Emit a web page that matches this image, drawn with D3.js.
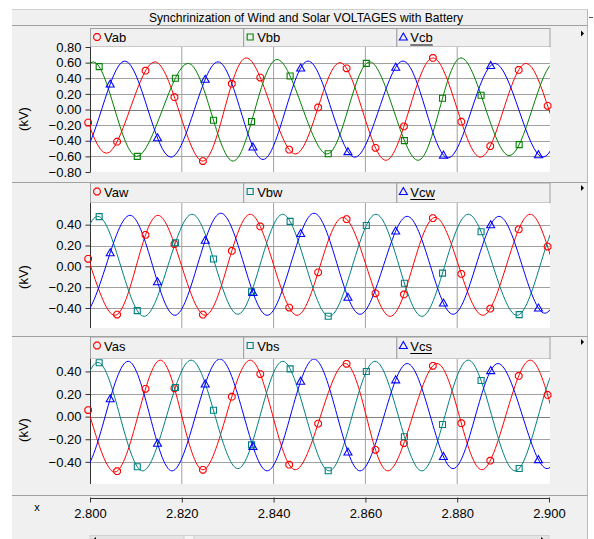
<!DOCTYPE html>
<html><head><meta charset="utf-8">
<script src="https://cdn.jsdelivr.net/npm/d3@7"></script>
<style>
body{margin:0;background:#fff;}
svg{display:block;font-family:"Liberation Sans",Arial,sans-serif;}
</style>
</head><body>
<svg id="chart" width="594" height="539"></svg>
<script>
// ---------------- DATA ----------------
const chartTitle = "Synchrinization of Wind and Solar VOLTAGES with Battery";
const xTicks = [2.80, 2.82, 2.84, 2.86, 2.88, 2.90];
const xDomain = [2.80, 2.90];
const yUnit = "(kV)";

// Panel 1 : battery voltages (times of successive peaks / troughs in s, values in kV)
const panel1Names = ["Vab", "Vbb", "Vcb"];
const panel1YTicks = [-0.8, -0.6, -0.4, -0.2, 0, 0.2, 0.4, 0.6, 0.8];
const panel1YDomain = [-0.8, 0.8];
const vabT = [2.7838, 2.7935, 2.8036, 2.8142, 2.8246, 2.8340, 2.8447, 2.8545, 2.8645, 2.8747, 2.8850, 2.8950, 2.9050, 2.9151];
const vabV = [-0.58, 0.60, -0.56, 0.61, -0.66, 0.66, -0.57, 0.60, -0.65, 0.66, -0.61, 0.59, -0.60, 0.60];
const vbbT = [2.7807, 2.7908, 2.8007, 2.8102, 2.8214, 2.8312, 2.8407, 2.8516, 2.8610, 2.8715, 2.8808, 2.8913, 2.9013, 2.9114];
const vbbV = [0.60, -0.60, 0.61, -0.60, 0.59, -0.66, 0.64, -0.57, 0.61, -0.65, 0.66, -0.59, 0.60, -0.60];
const vcbT = [2.7775, 2.7876, 2.7976, 2.8076, 2.8176, 2.8279, 2.8377, 2.8475, 2.8577, 2.8682, 2.8780, 2.8882, 2.8987, 2.9087, 2.9188];
const vcbV = [-0.60, 0.60, -0.60, 0.62, -0.61, 0.61, -0.64, 0.62, -0.61, 0.62, -0.62, 0.59, -0.61, 0.60, -0.60];

// Panel 2 : wind voltages
const panel2Names = ["Vaw", "Vbw", "Vcw"];
const panel2YTicks = [-0.4, -0.2, 0, 0.2, 0.4];
const panel2YDomain = [-0.592, 0.608];
const vawT = [2.7851, 2.7948, 2.8054, 2.8148, 2.8251, 2.8349, 2.8451, 2.8551, 2.8654, 2.8752, 2.8856, 2.8959, 2.9059, 2.9160];
const vawV = [-0.47, 0.48, -0.47, 0.49, -0.47, 0.50, -0.47, 0.47, -0.48, 0.47, -0.47, 0.50, -0.47, 0.48];
const vbwT = [2.7816, 2.7917, 2.8017, 2.8118, 2.8222, 2.8322, 2.8420, 2.8521, 2.8623, 2.8723, 2.8824, 2.8930, 2.9030, 2.9131];
const vbwV = [0.48, -0.48, 0.48, -0.48, 0.50, -0.46, 0.50, -0.48, 0.50, -0.48, 0.50, -0.47, 0.48, -0.47];
const vcwT = [2.7781, 2.7882, 2.7983, 2.8087, 2.8185, 2.8285, 2.8386, 2.8488, 2.8588, 2.8691, 2.8791, 2.8891, 2.8991, 2.9092, 2.9193];
const vcwV = [-0.47, 0.48, -0.47, 0.49, -0.47, 0.51, -0.47, 0.51, -0.46, 0.48, -0.46, 0.48, -0.45, 0.48, -0.46];

// Panel 3 : solar voltages
const panel3Names = ["Vas", "Vbs", "Vcs"];
const panel3YTicks = [-0.4, -0.2, 0, 0.2, 0.4];
const panel3YDomain = [-0.596, 0.51];
const vasT = [2.7851, 2.7948, 2.8054, 2.8153, 2.8246, 2.8349, 2.8447, 2.8556, 2.8649, 2.8756, 2.8854, 2.8959, 2.9059, 2.9160];
const vasV = [-0.47, 0.48, -0.49, 0.50, -0.47, 0.50, -0.47, 0.47, -0.48, 0.47, -0.47, 0.50, -0.47, 0.48];
const vbsT = [2.7816, 2.7917, 2.8017, 2.8115, 2.8220, 2.8322, 2.8420, 2.8521, 2.8621, 2.8723, 2.8824, 2.8926, 2.9026, 2.9127];
const vbsV = [0.48, -0.48, 0.48, -0.48, 0.50, -0.46, 0.49, -0.48, 0.49, -0.48, 0.50, -0.48, 0.48, -0.47];
const vcsT = [2.7781, 2.7882, 2.7983, 2.8083, 2.8179, 2.8283, 2.8386, 2.8488, 2.8588, 2.8691, 2.8791, 2.8889, 2.8996, 2.9096, 2.9197];
const vcsV = [-0.48, 0.48, -0.48, 0.49, -0.48, 0.51, -0.48, 0.51, -0.48, 0.47, -0.46, 0.47, -0.46, 0.48, -0.46];

// Marker times for the a / b / c traces (same in every panel)
const markerTimesA = [2.7996, 2.8059, 2.8121, 2.8184, 2.8246, 2.8309, 2.8371, 2.8434, 2.8497, 2.8559, 2.8622, 2.8684, 2.8747, 2.8809, 2.8872, 2.8934, 2.8997];
const markerTimesB = [2.8020, 2.8103, 2.8186, 2.8269, 2.8352, 2.8436, 2.8519, 2.8602, 2.8685, 2.8768, 2.8852, 2.8935];
const markerTimesC = [2.8044, 2.8147, 2.8251, 2.8355, 2.8459, 2.8562, 2.8666, 2.8770, 2.8873, 2.8977];

const panel1Colors = ["#ff0000", "#008000", "#0000ff"];
const panel23Colors = ["#ff0000", "#008080", "#0000ff"];
const shapes = ["oct", "square", "tri"];

// ---------------- LAYOUT ----------------
const W = 594, H = 539;
const plotL = 90, plotR = 549;
const frameL = 12, frameR = 587.5;
const bg = "#f0f0f0", lineGray = "#a0a0a0";

function zip(t, v) { return t.map((d, i) => ({t: d, v: v[i]})); }

const panels = [
  {legendTop: 28.5, plotTop: 47, plotBottom: 172, kvY: 119, yDomain: panel1YDomain, yTicks: panel1YTicks,
   series: [
     {name: panel1Names[0], data: zip(vabT, vabV), color: panel1Colors[0], shape: shapes[0], marks: markerTimesA},
     {name: panel1Names[1], data: zip(vbbT, vbbV), color: panel1Colors[1], shape: shapes[1], marks: markerTimesB},
     {name: panel1Names[2], data: zip(vcbT, vcbV), color: panel1Colors[2], shape: shapes[2], marks: markerTimesC}]},
  {legendTop: 183, plotTop: 203, plotBottom: 328, kvY: 277, yDomain: panel2YDomain, yTicks: panel2YTicks,
   series: [
     {name: panel2Names[0], data: zip(vawT, vawV), color: panel23Colors[0], shape: shapes[0], marks: markerTimesA},
     {name: panel2Names[1], data: zip(vbwT, vbwV), color: panel23Colors[1], shape: shapes[1], marks: markerTimesB},
     {name: panel2Names[2], data: zip(vcwT, vcwV), color: panel23Colors[2], shape: shapes[2], marks: markerTimesC}]},
  {legendTop: 337, plotTop: 359, plotBottom: 484, kvY: 430, yDomain: panel3YDomain, yTicks: panel3YTicks,
   series: [
     {name: panel3Names[0], data: zip(vasT, vasV), color: panel23Colors[0], shape: shapes[0], marks: markerTimesA},
     {name: panel3Names[1], data: zip(vbsT, vbsV), color: panel23Colors[1], shape: shapes[1], marks: markerTimesB},
     {name: panel3Names[2], data: zip(vcsT, vcsV), color: panel23Colors[2], shape: shapes[2], marks: markerTimesC}]}
];
const separators = [182.5, 336.5, 495.5];

const svg = d3.select("#chart");
const x = d3.scaleLinear().domain(xDomain).range([plotL, plotR]);

// background
svg.append("rect").attr("x", 0).attr("y", 0).attr("width", W).attr("height", H).attr("fill", "#fff");
svg.append("rect").attr("x", frameL).attr("y", 9).attr("width", frameR - frameL).attr("height", H - 9).attr("fill", bg);
svg.append("line").attr("x1", frameR).attr("x2", frameR).attr("y1", 9).attr("y2", H).attr("stroke", "#b8b8b8");
svg.append("line").attr("x1", 589).attr("x2", 593).attr("y1", 17.5).attr("y2", 17.5).attr("stroke", "#555");

// title bar
svg.append("line").attr("x1", frameL).attr("x2", frameR).attr("y1", 9.5).attr("y2", 9.5).attr("stroke", "#d0d0d0");
svg.append("line").attr("x1", frameL).attr("x2", frameR).attr("y1", 25.5).attr("y2", 25.5).attr("stroke", lineGray);
svg.append("text").attr("x", 306).attr("y", 22).attr("text-anchor", "middle")
  .attr("font-size", 13).attr("fill", "#000")
  .attr("textLength", 314).attr("lengthAdjust", "spacingAndGlyphs").text(chartTitle);

separators.forEach(y => svg.append("line").attr("x1", frameL).attr("x2", frameR)
  .attr("y1", y).attr("y2", y).attr("stroke", lineGray));

function markerPath(shape) {
  if (shape === "square") return "M-3,-3H3V3H-3Z";
  if (shape === "tri") return "M0,-4L4,3H-4Z";
  const r = 3.6, pts = d3.range(8).map(i => {
    const a = Math.PI / 8 + i * Math.PI / 4; return [r * Math.cos(a), r * Math.sin(a)];
  });
  return "M" + pts.map(p => p.join(",")).join("L") + "Z";
}

function yAtX(node, px) {
  let lo = 0, hi = node.getTotalLength();
  for (let i = 0; i < 40; i++) {
    const mid = (lo + hi) / 2;
    if (node.getPointAtLength(mid).x < px) lo = mid; else hi = mid;
  }
  return node.getPointAtLength((lo + hi) / 2).y;
}

panels.forEach((p, pi) => {
  const g = svg.append("g");
  const y = d3.scaleLinear().domain(p.yDomain).range([p.plotBottom, p.plotTop]);

  // legend row
  const cellW = (plotR + 0.5 - plotL) / 3;
  p.series.forEach((s, i) => {
    const cx = plotL + i * cellW;
    g.append("rect").attr("x", cx + 0.5).attr("y", p.legendTop).attr("width", cellW)
      .attr("height", p.plotTop - p.legendTop).attr("fill", bg).attr("stroke", lineGray);
    g.append("path").attr("d", markerPath(s.shape))
      .attr("transform", `translate(${cx + 7},${p.legendTop + 8.5})`)
      .attr("fill", "none").attr("stroke", s.color).attr("stroke-width", 1.1);
    const t = g.append("text").attr("x", cx + 14).attr("y", p.legendTop + 13.5)
      .attr("font-size", 13).attr("fill", "#000").text(s.name);
    if (i === 2) {
      const w = t.node().getComputedTextLength();
      g.append("line").attr("x1", cx + 14).attr("x2", cx + 14 + w)
        .attr("y1", p.legendTop + 16.5).attr("y2", p.legendTop + 16.5).attr("stroke", "#000");
    }
  });
  g.append("path").attr("d", "M0,-3L3,0L0,3Z")
    .attr("transform", `translate(581,${p.legendTop + 5})`).attr("fill", "#000");

  // plot area
  g.append("rect").attr("x", plotL).attr("y", p.plotTop).attr("width", plotR + 1 - plotL)
    .attr("height", p.plotBottom - p.plotTop).attr("fill", "#fff");

  // grid
  xTicks.slice(1, -1).forEach(t => g.append("line")
    .attr("x1", x(t)).attr("x2", x(t)).attr("y1", p.plotTop).attr("y2", p.plotBottom)
    .attr("stroke", lineGray));
  p.yTicks.filter(v => y(v) > p.plotTop + 1 && y(v) < p.plotBottom - 1).forEach(v => g.append("line")
    .attr("x1", plotL).attr("x2", plotR + 1).attr("y1", Math.round(y(v)) + 0.5).attr("y2", Math.round(y(v)) + 0.5)
    .attr("stroke", v === 0 ? "#808080" : lineGray));

  // y axis
  const ax = g.append("g").attr("transform", `translate(${plotL + 0.5},0)`)
    .call(d3.axisLeft(y).tickValues(p.yTicks).tickFormat(d3.format(".2f")).tickSize(5).tickPadding(4));
  ax.select(".domain").attr("d", `M0,${p.plotTop}V${p.plotBottom}`).attr("stroke", "#333");
  ax.selectAll(".tick line").attr("stroke", "#333");
  ax.selectAll(".tick text").attr("font-size", 13).attr("fill", "#000")
    .attr("font-family", "Liberation Sans, Arial, sans-serif");

  g.append("text").attr("transform", `translate(28,${p.kvY}) rotate(-90)`)
    .attr("text-anchor", "middle").attr("font-size", 13).attr("fill", "#000").text(yUnit);

  // curves
  const clipId = "clip" + pi;
  svg.append("clipPath").attr("id", clipId).append("rect")
    .attr("x", plotL).attr("y", p.plotTop).attr("width", plotR + 1 - plotL).attr("height", p.plotBottom - p.plotTop);
  const line = d3.line().x(d => x(d.t)).y(d => y(d.v)).curve(d3.curveCardinal.tension(0));
  p.series.forEach(s => {
    const path = g.append("path").datum(s.data).attr("d", line)
      .attr("fill", "none").attr("stroke", s.color).attr("stroke-width", 1)
      .attr("clip-path", `url(#${clipId})`);
    s.node = path.node();
  });
  p.series.forEach(s => {
    g.selectAll(null).data(s.marks).join("path")
      .attr("d", markerPath(s.shape))
      .attr("transform", t => `translate(${x(t)},${yAtX(s.node, x(t))})`)
      .attr("fill", "none").attr("stroke", s.color).attr("stroke-width", 1.1);
  });
});

// x axis
const xa = svg.append("g").attr("transform", "translate(0,498.5)")
  .call(d3.axisBottom(x).tickValues(xTicks).tickFormat(d3.format(".3f")).tickSize(4).tickPadding(6));
xa.select(".domain").attr("d", `M${plotL},0H${plotR}`).attr("stroke", "#333");
xa.selectAll(".tick line").attr("stroke", "#333").attr("y1", -1);
xa.selectAll(".tick text").attr("font-size", 13).attr("fill", "#000")
  .attr("font-family", "Liberation Sans, Arial, sans-serif");
svg.append("text").attr("x", 37).attr("y", 511).attr("text-anchor", "middle")
  .attr("font-size", 11).attr("fill", "#000").text("x");

// scrollbar
svg.append("rect").attr("x", plotL).attr("y", 535.5).attr("width", plotR - plotL).attr("height", 10)
  .attr("fill", "#e4e4e4").attr("stroke", "#d0d0d0");
svg.append("rect").attr("x", 184).attr("y", 535.5).attr("width", 10).attr("height", 10)
  .attr("fill", "#f4f4f4").attr("stroke", "#d0d0d0");
svg.append("path").attr("d", "M93,539.5L96,537V542Z").attr("fill", "#000");
svg.append("path").attr("d", "M544,539.5L541,537V542Z").attr("fill", "#000");
</script>
</body></html>
